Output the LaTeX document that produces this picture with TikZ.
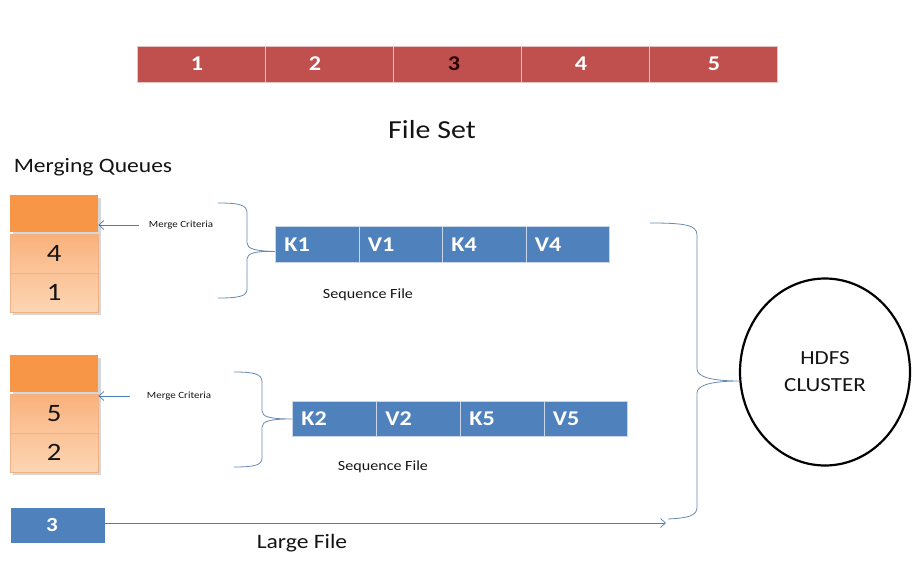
\documentclass[tikz,border=0pt]{standalone}
\usepackage{fontspec}
\setmainfont[FakeStretch=1.15]{Carlito}
\usetikzlibrary{arrows.meta,shapes.geometric}
\definecolor{fsred}{HTML}{C0504D}
\definecolor{seqblue}{HTML}{4F81BD}
\definecolor{qtop}{HTML}{F79646}
\definecolor{qAtop}{HTML}{F9B07A}
\definecolor{qAbot}{HTML}{FBC69C}
\definecolor{qBtop}{HTML}{FBC396}
\definecolor{qBbot}{HTML}{FDD6B4}
\definecolor{qline}{HTML}{EFB287}
\definecolor{conn}{HTML}{4A7EBB}
\definecolor{bracec}{HTML}{6A8AB0}
\definecolor{redsep}{HTML}{E6C4C3}
\definecolor{bluesep}{HTML}{C9D6E8}
\definecolor{txt}{HTML}{141414}
\newcommand\fsz[1]{\fontsize{#1}{#1}\selectfont}
\tikzset{
  redcell/.style={fill=fsred, draw=redsep, line width=0.9pt, minimum width=128, minimum height=36, inner sep=0, anchor=north west},
  rednum/.style={text=white, font=\fsz{21}\bfseries},
  seqcell/.style={fill=seqblue, draw=bluesep, line width=0.9pt, minimum height=36, text width=65.5pt, inner xsep=9pt, inner ysep=0, align=left, anchor=north west, text=white, font=\fsz{21}\bfseries},
  qhead/.style={fill=qtop, minimum width=88, minimum height=37, inner sep=0, anchor=north west},
  qcell/.style={draw=qline, line width=0.4pt, minimum width=88, minimum height=39, inner sep=0, anchor=north west, text=txt, font=\fsz{25}},
  qcellA/.style={qcell, top color=qAtop, bottom color=qAbot},
  qcellB/.style={qcell, top color=qBtop, bottom color=qBbot},
  qshadow/.style={fill=black!16},
  conn/.style={draw=conn, line width=0.7pt},
  tipped/.style={-{Straight Barb[length=5pt,width=9pt,line width=0.7pt]}},
  bracel/.style={draw=bracec, line width=0.8pt},
  lbl/.style={text=txt, inner sep=0},
}
\begin{document}
\begin{tikzpicture}[x=1pt,y=-1pt]
\useasboundingbox (0,0) rectangle (915,562);
% File set bar
\node[redcell] (c1) at (137,46) {};
\node[redcell] (c2) at (265,46) {};
\node[redcell] (c3) at (393,46) {};
\node[redcell] (c4) at (521,46) {};
\node[redcell] (c5) at (649,46) {};
\node[rednum] (n1) at (197,64) {1};
\node[rednum] (n2) at (315,64) {2};
\node[rednum, text={rgb,255:red,40;green,0;blue,0}] (n3) at (454,64) {3};
\node[rednum] (n4) at (581,64) {4};
\node[rednum] (n5) at (714,64) {5};
\node[lbl, font=\fsz{26}] (fileset) at (432,130) {File Set};
\node[lbl, font=\fsz{20.5}] (mq) at (93,167) {Merging Queues};
% queue 1
\fill[qshadow] (13,198) rectangle (101,315);
\node[qhead] (q1top) at (10,195) {};
\node[qcellA] (q1a) at (10,234) {4};
\node[qcellB] (q1b) at (10,273) {1};
% queue 2
\fill[qshadow] (13,358) rectangle (101,475);
\node[qhead] (q2top) at (10,355) {};
\node[qcellA] (q2a) at (10,394) {5};
\node[qcellB] (q2b) at (10,433) {2};
% merge criteria
\node[lbl, font=\fsz{9.5}] (mc1) at (181,225) {Merge Criteria};
\node[lbl, font=\fsz{9.5}] (mc2) at (179,396) {Merge Criteria};
\draw[conn, tipped] ([xshift=-10pt]mc1.west) -- (q1top.east |- mc1.west);
\draw[conn, tipped] ([xshift=-17pt]mc2.west) -- (q2top.east |- mc2.west);
% sequence file 1
\node[seqcell] (k1) at (275,226) {K1};
\node[seqcell] (v1) at (358.5,226) {V1};
\node[seqcell] (k4) at (442,226) {K4};
\node[seqcell] (v4) at (525.5,226) {V4};
\node[lbl, font=\fsz{14}] (sf1) at (368,295) {Sequence File};
% sequence file 2
\node[seqcell, minimum height=35] (k2) at (292,401) {K2};
\node[seqcell, minimum height=35] (v2) at (376,401) {V2};
\node[seqcell, minimum height=35] (k5) at (460,401) {K5};
\node[seqcell, minimum height=35] (v5) at (543.5,401) {V5};
\node[lbl, font=\fsz{14}] (sf2) at (383,467) {Sequence File};
% brace 1
\coordinate (b1top) at (218,203);
\coordinate (b1bot) at (218,298);
\coordinate (b1tip) at ([yshift=-7pt]k1.west);
\draw[bracel] (b1top) .. controls (240,203) and (247,205) .. (247,213) -- (247,243)
  .. controls (247,249) and (256,251) .. (b1tip)
  .. controls (256,251) and (247,253) .. (247,259) -- (247,289)
  .. controls (247,296) and (240,298) .. (b1bot);
% brace 2
\coordinate (b2top) at (234,372);
\coordinate (b2bot) at (234,467);
\coordinate (b2tip) at (k2.west);
\draw[bracel] (b2top) .. controls (255,372) and (262,374) .. (262,382) -- (262,411)
  .. controls (262,417) and (271,419) .. (b2tip)
  .. controls (271,419) and (262,421) .. (262,427) -- (262,458)
  .. controls (262,465) and (255,467) .. (b2bot);
% large file
\node[fill=seqblue, minimum width=94, minimum height=35, inner sep=0, anchor=north west] (f3) at (11,508) {};
\node[text=white, font=\fsz{20}\bfseries, inner sep=0] (f3t) at (52,525.5) {3};
\coordinate (lfend) at (666,523);
\draw[conn, tipped] (f3.east |- lfend) -- (lfend);
\node[lbl, font=\fsz{20.5}] (lf) at (302,543) {Large File};
% HDFS cluster
\node[draw=black, line width=2.2pt, ellipse, minimum width=170, minimum height=187, inner sep=0, align=center, text=txt, font=\fsz{20}] (hdfs) at (825,372) {HDFS\\[7pt]CLUSTER};
% big brace
\coordinate (bbtop) at (650,223);
\coordinate (bbbot) at (668,519);
\coordinate (bbtip) at (740,381);
\draw[bracel] (bbtop) .. controls (685,223) and (697,225) .. (697,235) -- (697,369)
  .. controls (697,377) and (712,381) .. (bbtip)
  .. controls (712,381) and (697,385) .. (697,393) -- (697,507)
  .. controls (697,516) and (688,518) .. (bbbot);
\end{tikzpicture}
\end{document}
